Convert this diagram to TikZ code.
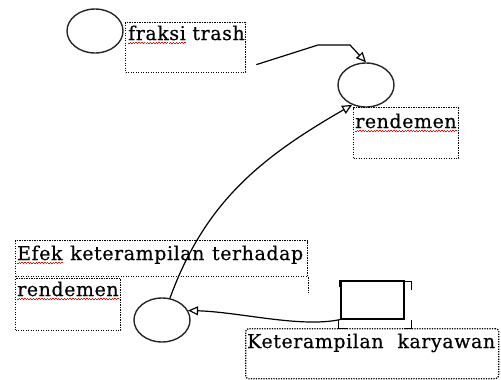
\documentclass[tikz,border=0pt]{standalone}
\usepackage{fontspec}
\newfontfamily\boxfont[LetterSpace=3,FakeBold=0.4]{DejaVu Serif}
\usetikzlibrary{arrows.meta,positioning,calc,shapes.geometric}
% red wavy spell-check mark under a word
\newsavebox\wavebox
\newcommand\wavebit{\hbox{\rule{1.4pt}{0.9pt}\raisebox{1.2pt}{\rule{1.4pt}{0.9pt}}}}
\newcommand\spell[1]{\sbox\wavebox{#1}\rlap{\raisebox{-4pt}{\color{red}\xleaders\wavebit\hskip\wd\wavebox}}\usebox\wavebox}

\begin{document}
\begin{tikzpicture}[
  x=1pt,y=-1pt,
  valve/.style={ellipse,draw=black!85,line width=1.4pt,minimum width=56pt,minimum height=44pt,inner sep=0pt},
  tbox/.style={draw,dash pattern=on 1.2pt off 1.3pt,line width=1.3pt,anchor=north west,inner sep=0pt},
  lbl/.style={font=\boxfont\fontsize{19}{22}\selectfont,anchor=base west,inner sep=0pt},
  flow/.style={draw,line width=1.2pt,-{Triangle[open,length=10pt,width=9pt,line width=1.2pt]}}
]
\useasboundingbox (0,0) rectangle (501,380);
% circles
\node[valve] (trash) at (95,31) {};
\node[valve] (rend) at (366,85) {};
\node[valve] (effv) at (162,320) {};
% stock box with its corner marks
\node[draw,line width=1.6pt,minimum width=63pt,minimum height=38pt,anchor=north west,inner sep=0pt] (stock) at (340,280) {};
\draw[line width=2.5pt] ($(stock.north west)+(0,0)$) -- ++(0,7);
\draw[line width=1pt] ($(stock.north east)+(-1,1)$) -- ++(8,0) -- ++(0,9);
\draw[line width=1pt] ($(stock.south west)+(-2,0)$) -- ++(0,9) -- ++(10,0);
\draw[line width=1pt] ($(stock.south east)+(7,0)$) -- ++(0,9) -- ++(-8,0);

% text boxes
\node[tbox,minimum width=120pt,minimum height=50pt] (trashbox) at (125,22) {};
\node[lbl] (trashtxt) at ($(trashbox.north west)+(3,18)$) {\spell{fraksi} trash};
\node[tbox,minimum width=105pt,minimum height=51pt] (rendbox) at (353,107) {};
\node[lbl] (rendtxt) at ($(rendbox.north west)+(2,21)$) {\spell{rendemen}};
\node[tbox,minimum width=292pt,minimum height=36pt] (effbox) at (15,240) {};
\draw[dash pattern=on 1.2pt off 1.3pt,line width=1.3pt] (effbox.south east) -- ++(0,16);
\node[lbl] (efftxt) at ($(effbox.north west)+(2,20)$) {\makebox[286pt][s]{\spell{Efek} keterampilan terhadap}};
\node[tbox,minimum width=105pt,minimum height=52pt] (effbox2) at (15,278) {};
\node[lbl] (efftxt2) at ($(effbox2.north west)+(2,18)$) {\spell{rendemen}};
\node[tbox,rounded corners=3pt,minimum width=253pt,minimum height=50pt] (karbox) at (245,328) {};
\node[lbl] (kartxt) at ($(karbox.north west)+(2,20)$) {\makebox[248pt][s]{Keterampilan karyawan}};

% connectors
\coordinate (c1) at ($(trashbox.east)+(10,17)$);
\draw[flow] (c1) -- (318,45) -- (350,45) -- (rend.north);
\draw[flow] (effv.70) to[out=70,in=210] (rend.-125);
\draw[flow] (stock.south west) .. controls (300,328) and (240,312) .. (effv.20);
\end{tikzpicture}
\end{document}
